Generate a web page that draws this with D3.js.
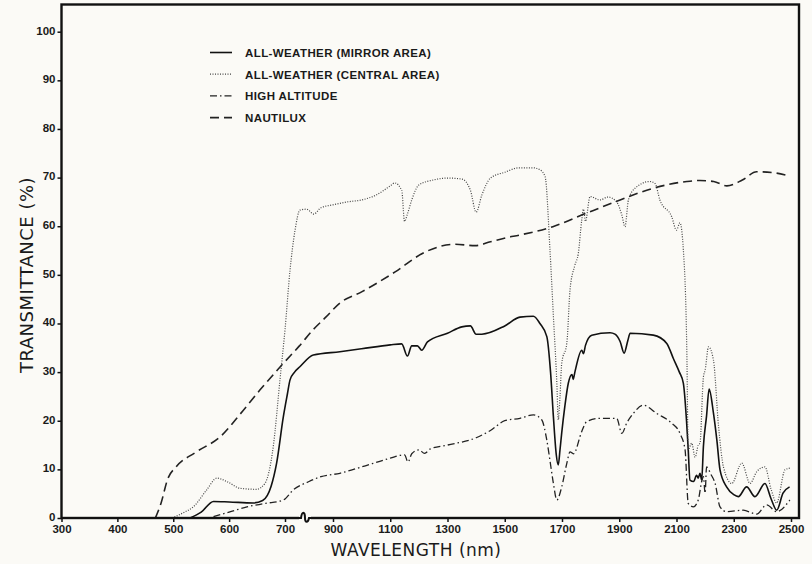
<!DOCTYPE html>
<html>
<head>
<meta charset="utf-8">
<script src="https://cdn.jsdelivr.net/npm/d3@7"></script>
<style>
  body { margin: 0; background: #fbfaf6; }
  svg { display: block; }
  .tick text { font-family: "Liberation Sans", Arial, sans-serif; font-weight: bold; font-size: 11.5px; fill: #1a1a1a; }
</style>
</head>
<body>
<script>
const width = 812, height = 564;

// tick labels
const x_ticks = [300, 400, 500, 600, 700, 900, 1100, 1300, 1500, 1700, 1900, 2100, 2300, 2500];
const y_ticks = [0, 10, 20, 30, 40, 50, 60, 70, 80, 90, 100];

// series names (legend order)
const series_names = ['ALL-WEATHER (MIRROR AREA)', 'ALL-WEATHER (CENTRAL AREA)', 'HIGH ALTITUDE', 'NAUTILUX'];

// all-weather, mirror area (solid)
const mirror_nm = [530, 550, 572, 600, 643, 660, 675, 685, 697, 710, 721, 740, 762, 818, 924, 1000, 1100, 1140, 1160, 1175, 1195, 1210, 1230, 1300, 1350, 1380, 1400, 1420, 1500, 1553, 1600, 1623, 1647, 1660, 1670, 1680, 1687, 1693, 1699, 1710, 1722, 1735, 1739, 1745, 1769, 1775, 1782, 1804, 1868, 1885, 1903, 1917, 1930, 1938, 2019, 2066, 2089, 2110, 2124, 2135, 2141, 2147, 2160, 2170, 2176, 2182, 2188, 2194, 2205, 2214, 2229, 2241, 2252, 2275, 2300, 2316, 2345, 2374, 2409, 2430, 2450, 2472, 2495];
const mirror_val = [0, 1.2, 3.4, 3.3, 3.1, 3.6, 6.5, 11.3, 20.8, 25.5, 28.4, 30, 31.1, 33.5, 34.2, 34.8, 35.6, 35.8, 33.3, 35.4, 35.4, 34.5, 36.2, 38, 39.3, 39.5, 37.8, 37.8, 39.5, 41.3, 41.5, 40, 37.3, 30, 20.8, 13, 10.9, 14, 17.5, 23, 27.7, 29.5, 28.5, 30, 34.5, 33.8, 35.5, 37.6, 38.1, 37.8, 36.3, 33.9, 36.5, 38, 37.6, 35.9, 32.8, 30, 27.7, 20, 14, 7.8, 7.5, 8.8, 8.2, 9.2, 7.8, 14.7, 21, 26.5, 21.6, 16, 9.9, 6.4, 4.8, 4.4, 6.4, 4.4, 7.1, 4, 1.6, 5.1, 6.4];

// all-weather, central area (dotted)
const central_nm = [498, 520, 536, 560, 578, 596, 620, 649, 664, 679, 691, 700, 721, 742, 762, 790, 820, 850, 900, 950, 1000, 1050, 1100, 1115, 1140, 1150, 1160, 1175, 1200, 1250, 1300, 1350, 1380, 1400, 1420, 1450, 1500, 1550, 1600, 1623, 1641, 1658, 1670, 1682, 1687, 1693, 1699, 1717, 1728, 1745, 1757, 1769, 1775, 1782, 1798, 1833, 1860, 1891, 1909, 1920, 1932, 1955, 2007, 2025, 2042, 2083, 2100, 2112, 2124, 2136, 2141, 2153, 2165, 2176, 2182, 2194, 2200, 2212, 2229, 2247, 2264, 2293, 2328, 2357, 2380, 2409, 2430, 2450, 2479, 2500];
const central_val = [0, 1.2, 2.3, 5.8, 8.2, 7.5, 6.1, 5.9, 7.1, 14.7, 28.4, 38.7, 51, 59.2, 63.3, 63.5, 62.5, 63.8, 64.4, 65, 65.4, 66.4, 68.3, 68.9, 67.4, 61, 62.5, 65.4, 68.5, 69.5, 69.9, 69.7, 67.4, 62.9, 66.4, 69.9, 71.1, 72, 72, 71.6, 70.2, 55.1, 41.4, 27.7, 20.2, 25, 31.8, 36, 46.9, 52, 54.4, 61.3, 63.5, 61, 66.1, 65.4, 66, 65, 62.3, 59.9, 65.4, 67.8, 69.2, 68.8, 65.4, 62, 59.2, 60.7, 55.1, 34.5, 14, 15.4, 12.5, 15, 15.4, 29, 30.4, 35.2, 32.5, 18.8, 10.5, 7.1, 11.3, 7.1, 9.5, 10.5, 6, 3.1, 9.9, 10.3];

// high altitude (dash-dot)
const high_nm = [572, 600, 632, 665, 697, 735, 800, 850, 924, 1000, 1100, 1150, 1162, 1175, 1200, 1220, 1240, 1300, 1400, 1450, 1500, 1553, 1600, 1629, 1647, 1660, 1670, 1682, 1699, 1717, 1728, 1740, 1769, 1786, 1833, 1891, 1909, 1926, 1949, 1984, 2031, 2083, 2112, 2130, 2141, 2159, 2176, 2188, 2194, 2200, 2205, 2220, 2235, 2252, 2275, 2333, 2380, 2415, 2450, 2496];
const high_val = [0.3, 1.2, 2.3, 3, 3.7, 5.8, 7.5, 8.5, 9.2, 10.5, 12.3, 13, 11.5, 13.2, 14, 13.3, 14.2, 15, 16.5, 18, 20, 20.5, 21.2, 20.2, 16, 11, 7.1, 3.7, 6.4, 11.3, 13.6, 13.2, 17.8, 19.8, 20.5, 20.5, 17.4, 19.5, 21.5, 23.2, 21.5, 19.5, 17.4, 14, 3, 2.3, 3.7, 7.5, 8.5, 5.1, 10.5, 9, 7.1, 2.3, 1.3, 1.6, 0.8, 2.7, 1.3, 3.7];

// nautilux (dashed)
const naut_nm = [468, 478, 490, 505, 540, 584, 620, 655, 697, 760, 817, 870, 924, 1000, 1117, 1222, 1327, 1397, 1450, 1502, 1553, 1668, 1786, 1903, 2018, 2136, 2182, 2230, 2276, 2330, 2380, 2440, 2496];
const naut_val = [0, 3, 8, 10.5, 13.5, 16.7, 21.4, 26.3, 31.8, 35.4, 38.7, 41.3, 44.2, 46.5, 50.6, 54.7, 56.3, 56, 56.8, 57.6, 58.2, 59.9, 62.7, 65.4, 67.8, 69.2, 69.4, 69.2, 68.3, 69.5, 71.2, 71, 70.3];

const styles = [
    { stroke: '#111', width: 1.6, dash: null },
    { stroke: '#444', width: 1.2, dash: '1,1.5' },
    { stroke: '#222', width: 1.3, dash: '7,3,1.5,3' },
    { stroke: '#222', width: 1.6, dash: '9,5' }
];

const series = [
    { nm: mirror_nm, val: mirror_val },
    { nm: central_nm, val: central_val },
    { nm: high_nm, val: high_val },
    { nm: naut_nm, val: naut_val }
].map((s, i) => ({ name: series_names[i], style: styles[i], pts: s.nm.map((n, j) => [n, s.val[j]]) }));

const plot_left = 61.5, plot_right = 799, plot_top = 4.5, plot_bottom = 518;

// broken wavelength axis: 100 nm steps up to 700, 200 nm steps from 900
const x = d3.scaleLinear().domain([300, 700, 900, 2500]).range([plot_left, 285, 333, 791]);
const y = d3.scaleLinear().domain([0, 100]).range([plot_bottom, 31.7]);

const svg = d3.select('body').append('svg').attr('width', width).attr('height', height);

const line = d3.line().x(d => x(d[0])).y(d => y(d[1])).curve(d3.curveMonotoneX);

svg.append('g').selectAll('path')
    .data(series)
    .enter()
    .append('path')
        .attr('d', d => line(d.pts))
        .attr('fill', 'none')
        .attr('stroke', d => d.style.stroke)
        .attr('stroke-width', d => d.style.width)
        .attr('stroke-dasharray', d => d.style.dash)
        .attr('stroke-linejoin', 'round');

// frame
svg.append('rect')
    .attr('x', plot_left).attr('y', plot_top)
    .attr('width', plot_right - plot_left).attr('height', plot_bottom - plot_top)
    .attr('fill', 'none').attr('stroke', '#111').attr('stroke-width', 2.4);

// axis break squiggle
const bx = 305;
svg.append('rect').attr('x', bx - 6).attr('y', plot_bottom - 3).attr('width', 12).attr('height', 6).attr('fill', '#fbfaf6');
svg.append('path')
    .attr('d', `M${bx - 7},${plot_bottom} L${bx - 4},${plot_bottom} C${bx - 3},${plot_bottom - 7} ${bx},${plot_bottom - 7} ${bx},${plot_bottom} C${bx},${plot_bottom + 5} ${bx + 3},${plot_bottom + 5} ${bx + 4},${plot_bottom} L${bx + 7},${plot_bottom}`)
    .attr('fill', 'none').attr('stroke', '#111').attr('stroke-width', 2);

const xAxis = svg.append('g')
    .attr('transform', `translate(0,${plot_bottom})`)
    .call(d3.axisBottom(x).tickValues(x_ticks).tickSize(4).tickPadding(3).tickFormat(d3.format('d')));
xAxis.select('.domain').remove();
xAxis.selectAll('.tick line').attr('stroke', '#111').attr('stroke-width', 1.5);

const yAxis = svg.append('g')
    .attr('transform', `translate(${plot_left},0)`)
    .call(d3.axisLeft(y).tickValues(y_ticks).tickSize(4).tickPadding(2));
yAxis.select('.domain').remove();
yAxis.selectAll('.tick line').attr('stroke', '#111').attr('stroke-width', 1.5);
yAxis.selectAll('.tick text').attr('dy', '0.2em');

// axis titles
svg.append('text')
    .attr('x', 416).attr('y', 556)
    .attr('text-anchor', 'middle')
    .style('font-family', '"DejaVu Sans", sans-serif').style('font-size', '17px')
    .style('letter-spacing', '0.5px').attr('fill', '#1a1a1a')
    .text('WAVELENGTH (nm)');

svg.append('text')
    .attr('transform', 'translate(33,275) rotate(-90)')
    .attr('text-anchor', 'middle')
    .style('font-family', '"DejaVu Sans", sans-serif').style('font-size', '18px')
    .style('letter-spacing', '0.5px').attr('fill', '#1a1a1a')
    .text('TRANSMITTANCE (%)');

// legend
const legend = svg.append('g').selectAll('g')
    .data(series)
    .enter()
    .append('g')
        .attr('transform', (d, i) => `translate(0,${52.5 + i * 21.7})`);

legend.append('line')
    .attr('x1', 210).attr('x2', 232)
    .attr('stroke', d => d.style.stroke)
    .attr('stroke-width', d => d.style.width)
    .attr('stroke-dasharray', d => d.style.dash);

legend.append('text')
    .attr('x', 245).attr('y', 4.5)
    .style('font-family', '"Liberation Sans", Arial, sans-serif').style('font-weight', 'bold')
    .style('font-size', '11.5px').style('letter-spacing', '0.4px').attr('fill', '#1a1a1a')
    .text(d => d.name);
</script>
</body>
</html>
